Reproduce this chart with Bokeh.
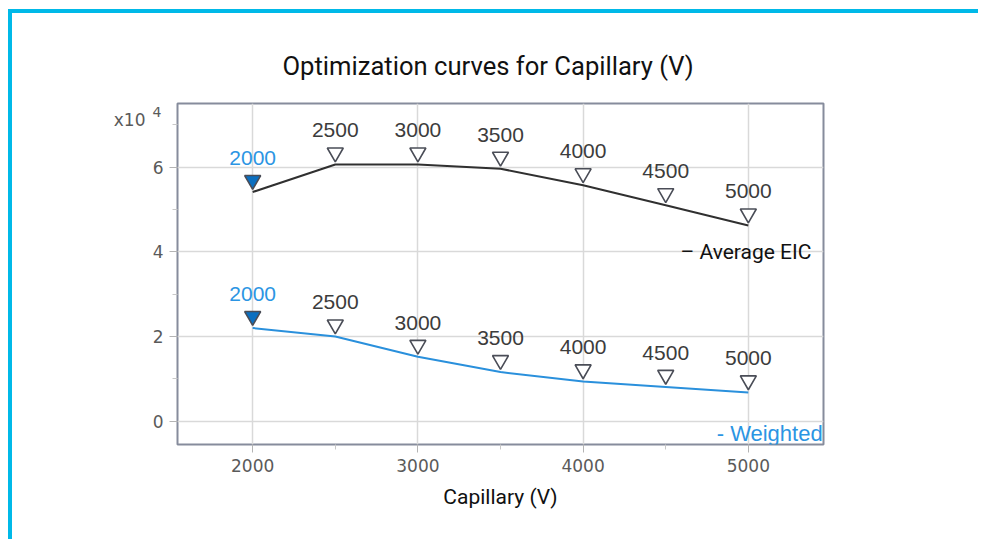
from bokeh.plotting import figure
from bokeh.models import Range1d, FixedTicker, Label, ColumnDataSource, LinearAxis
from bokeh.transform import dodge
from bokeh.core.properties import value
from bokeh.embed import file_html
from bokeh.resources import INLINE

# ---- data (y in units of 10^4) ----
voltages = [2000, 2500, 3000, 3500, 4000, 4500, 5000]
point_labels = ["2000", "2500", "3000", "3500", "4000", "4500", "5000"]
average_eic = [5.41, 6.06, 6.06, 5.96, 5.57, 5.10, 4.62]
weighted = [2.20, 2.00, 1.52, 1.16, 0.94, 0.81, 0.68]
selected_voltage = 2000
x_ticks = [2000, 3000, 4000, 5000]
x_minor_ticks = [2500, 3500, 4500]
y_ticks = [0, 2, 4, 6]
y_minor_ticks = [1, 3, 5, 7]
scale_base = "x10"
scale_exponent = "4"

BLUE_LINE = "#2a90dc"
BLUE_TEXT = "#2b95e3"
BLUE_FILL = "#0b6fc0"
DARK = "#3c3c3c"
EDGE = "#4a4d57"
CYAN = "#00b9e8"
TICK_TEXT = "#5a5a5a"

p = figure(width=970, height=530, output_backend="svg", toolbar_location=None,
           x_range=Range1d(1545, 5455), y_range=Range1d(-0.55, 7.5),
           min_border_left=165, min_border_right=159, min_border_top=90,
           min_border_bottom=99, background_fill_color="white",
           border_fill_color="white")
p.styles = {"margin-left": "8px", "margin-top": "9px",
            "border-top": "4px solid " + CYAN, "border-left": "4px solid " + CYAN}

p.title.text = "Optimization curves for Capillary (V)"
p.title.text_font = "Roboto"
p.title.text_font_size = "25.6px"
p.title.text_font_style = "normal"
p.title.text_color = "#111111"
p.title.align = "left"
p.title.offset = 105
p.title.standoff = 46

p.outline_line_color = "#868c9c"
p.outline_line_width = 2

p.xaxis.ticker = FixedTicker(ticks=x_ticks, minor_ticks=x_minor_ticks)
p.yaxis.ticker = FixedTicker(ticks=y_ticks, minor_ticks=y_minor_ticks)
p.xgrid.ticker = FixedTicker(ticks=x_ticks)
p.ygrid.ticker = FixedTicker(ticks=y_ticks)
for g in (p.xgrid, p.ygrid):
    g.grid_line_color = "#d9d9d9"
    g.grid_line_width = 1.5

for ax in (p.xaxis, p.yaxis):
    ax.axis_line_color = None
    ax.major_tick_line_color = "#b4b4b4"
    ax.minor_tick_line_color = "#c8c8c8"
    ax.major_tick_in = 0
    ax.minor_tick_in = 0
    ax.major_tick_out = 8
    ax.minor_tick_out = 5
    ax.major_label_text_font = "DejaVu Sans"
    ax.major_label_text_font_size = "17px"
    ax.major_label_text_color = TICK_TEXT

p.yaxis.major_label_standoff = 6
p.xaxis.major_label_standoff = 6
p.xaxis.axis_label = "Capillary (V)"
p.xaxis.axis_label_text_font = "Roboto"
p.xaxis.axis_label_text_font_size = "21px"
p.xaxis.axis_label_text_font_style = "normal"
p.xaxis.axis_label_text_color = "#111111"
p.xaxis.axis_label_standoff = 10

# "x10^4" scale note: two extra left axes, each carrying one labelled tick
def note_axis(tick, text, size, standoff):
    ax = LinearAxis(ticker=FixedTicker(ticks=[tick]),
                    major_label_overrides={tick: text})
    ax.axis_line_color = None
    ax.major_tick_line_color = None
    ax.minor_tick_line_color = None
    ax.major_tick_out = 0
    ax.minor_tick_out = 0
    ax.major_tick_in = 0
    ax.minor_tick_in = 0
    ax.major_label_text_font = "DejaVu Sans"
    ax.major_label_text_font_size = size
    ax.major_label_text_color = TICK_TEXT
    ax.major_label_standoff = standoff
    return ax

p.add_layout(note_axis(7.31, scale_exponent, "14px", -12), "left")
p.add_layout(note_axis(7.1, scale_base, "17px", 4), "left")

# ---- lines ----
p.line(voltages, average_eic, line_color="#303030", line_width=2)
p.line(voltages, weighted, line_color=BLUE_LINE, line_width=2)

# ---- markers and point labels ----
def series_source(yvals):
    return ColumnDataSource(dict(
        x=voltages, y=yvals, label=point_labels,
        fill=[BLUE_FILL if v == selected_voltage else "white" for v in voltages],
        tcolor=[BLUE_TEXT if v == selected_voltage else DARK for v in voltages],
    ))

for yvals in (average_eic, weighted):
    src = series_source(yvals)
    p.scatter(x="x", y=dodge("y", 0.28, range=p.y_range), source=src,
              marker="inverted_triangle", size=16, fill_color="fill",
              line_color=EDGE, line_width=1.6)
    p.text(x="x", y="y", text="label", source=src, text_color="tcolor",
           text_font=value("Liberation Sans"), text_font_size="21px",
           text_align="center", text_baseline="alphabetic", y_offset=-34)

# ---- series names ----
p.add_layout(Label(x=5382, y=3.99, text="\u2013 Average EIC",
                   text_font="Roboto", text_font_size="21px", text_color="#111111",
                   text_align="right", text_baseline="alphabetic"))
p.add_layout(Label(x=5450, y=-0.28, text="- Weighted",
                   text_font="Liberation Sans", text_font_size="22px", text_color=BLUE_TEXT,
                   text_align="right", text_baseline="alphabetic"))

open("out.html", "w").write(file_html(p, INLINE))
